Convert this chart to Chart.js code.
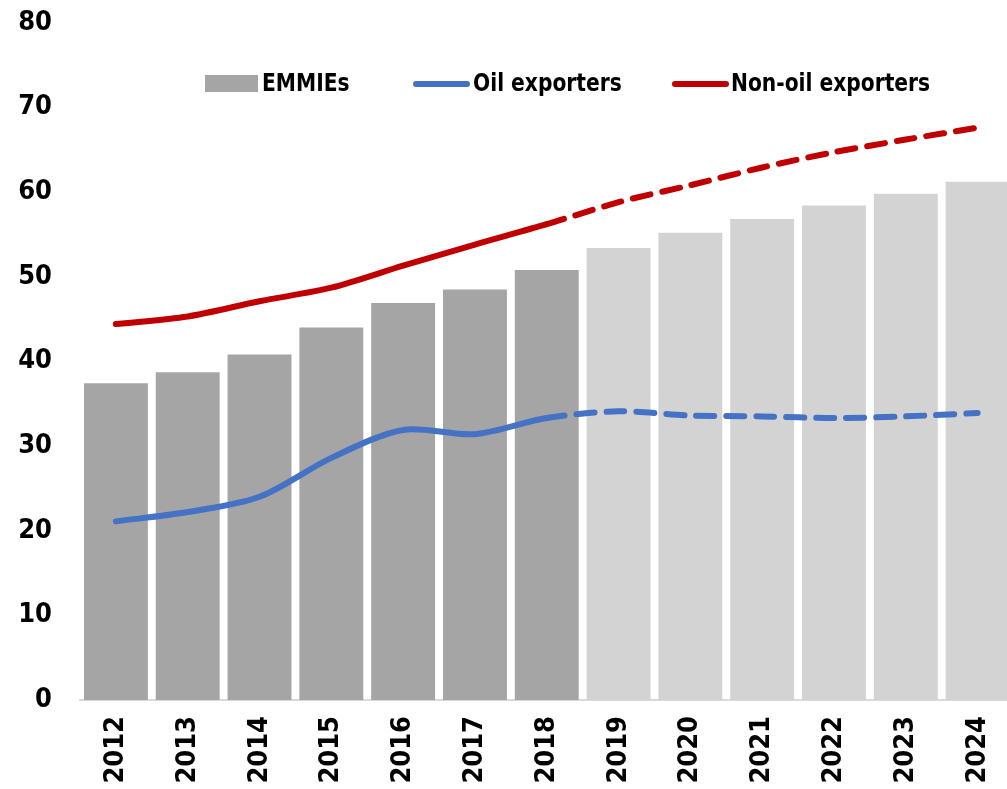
<!DOCTYPE html>
<html>
<head>
<meta charset="utf-8">
<script src="https://cdn.jsdelivr.net/npm/chart.js@4.4.1/dist/chart.umd.min.js"></script>
<style>
  body { margin: 0; background: #fff; }
  #wrap { position: relative; width: 1007px; height: 789px; overflow: hidden; }
  #legend {
    font-family: "DejaVu Sans Condensed", "Liberation Sans", Arial, sans-serif;
    font-weight: bold; font-size: 25px; color: #000; white-space: nowrap;
  }
  #legend span { position: absolute; }
  #legend .txt { top: 68px; transform-origin: left center; transform: scaleX(0.9); }
  #legend .box { left: 205px; top: 75px; width: 53px; height: 17px; background: #a5a5a5; }
  #legend .ln { top: 81px; width: 57px; height: 6px; border-radius: 3px; }
</style>
</head>
<body>
<div id="wrap">
  <canvas id="chart" width="1018" height="789"></canvas>
  <div id="legend">
    <span class="box"></span><span class="txt" style="left:262px">EMMIEs</span>
    <span class="ln" style="left:413px;background:#4472c4"></span><span class="txt" style="left:473px">Oil exporters</span>
    <span class="ln" style="left:672px;background:#c00000"></span><span class="txt" style="left:731px">Non-oil exporters</span>
  </div>
</div>
<script>
const years = ['2012', '2013', '2014', '2015', '2016', '2017', '2018', '2019', '2020', '2021', '2022', '2023', '2024'];
const emmies = [37.4, 38.7, 40.8, 44.0, 46.9, 48.5, 50.8, 53.4, 55.2, 56.8, 58.4, 59.8, 61.2];
const oilExporters = [21.1, 22.2, 24.0, 28.6, 31.9, 31.4, 33.3, 34.1, 33.6, 33.5, 33.3, 33.5, 33.9];
const nonOilExporters = [44.4, 45.3, 47.1, 48.7, 51.3, 53.8, 56.2, 58.8, 60.8, 62.9, 64.7, 66.2, 67.6];
const lastActual = 6; // 2018, projections after

const font = { family: '"DejaVu Sans Condensed", "Liberation Sans", Arial, sans-serif', size: 27, weight: 'bold' };

const barColors = years.map((y, i) => i <= lastActual ? '#a5a5a5' : '#d3d3d3');
const dashAfter = ctx => ctx.p0DataIndex >= lastActual ? [18, 12] : undefined;

new Chart(document.getElementById('chart'), {
  data: {
    labels: years,
    datasets: [
      {
        type: 'line', label: 'Non-oil exporters', data: nonOilExporters,
        borderColor: '#c00000', borderWidth: 6, borderCapStyle: 'round',
        pointRadius: 0, tension: 0.3, segment: { borderDash: dashAfter }, order: 0
      },
      {
        type: 'line', label: 'Oil exporters', data: oilExporters,
        borderColor: '#4472c4', borderWidth: 6, borderCapStyle: 'round',
        pointRadius: 0, tension: 0.3, segment: { borderDash: dashAfter }, order: 1
      },
      {
        type: 'bar', label: 'EMMIEs', data: emmies,
        backgroundColor: barColors, barPercentage: 0.89, categoryPercentage: 1, order: 2
      }
    ]
  },
  options: {
    responsive: false,
    animation: false,
    layout: { padding: { top: 20, right: 0, left: 0, bottom: 0 } },
    plugins: { legend: { display: false }, tooltip: { enabled: false } },
    scales: {
      x: {
        grid: { display: false },
        border: { display: true, color: '#d9d9d9', width: 2 },
        ticks: { color: '#000', font: font, maxRotation: 90, minRotation: 90, padding: 8 },
        afterFit: s => { s.height = 89; }
      },
      y: {
        min: 0, max: 80,
        grid: { display: false },
        border: { display: false },
        ticks: { stepSize: 10, color: '#000', font: Object.assign({}, font, { lineHeight: 0.2 }), padding: 20 },
        afterFit: s => { s.width = 80; }
      }
    }
  }
});
</script>
</body>
</html>
